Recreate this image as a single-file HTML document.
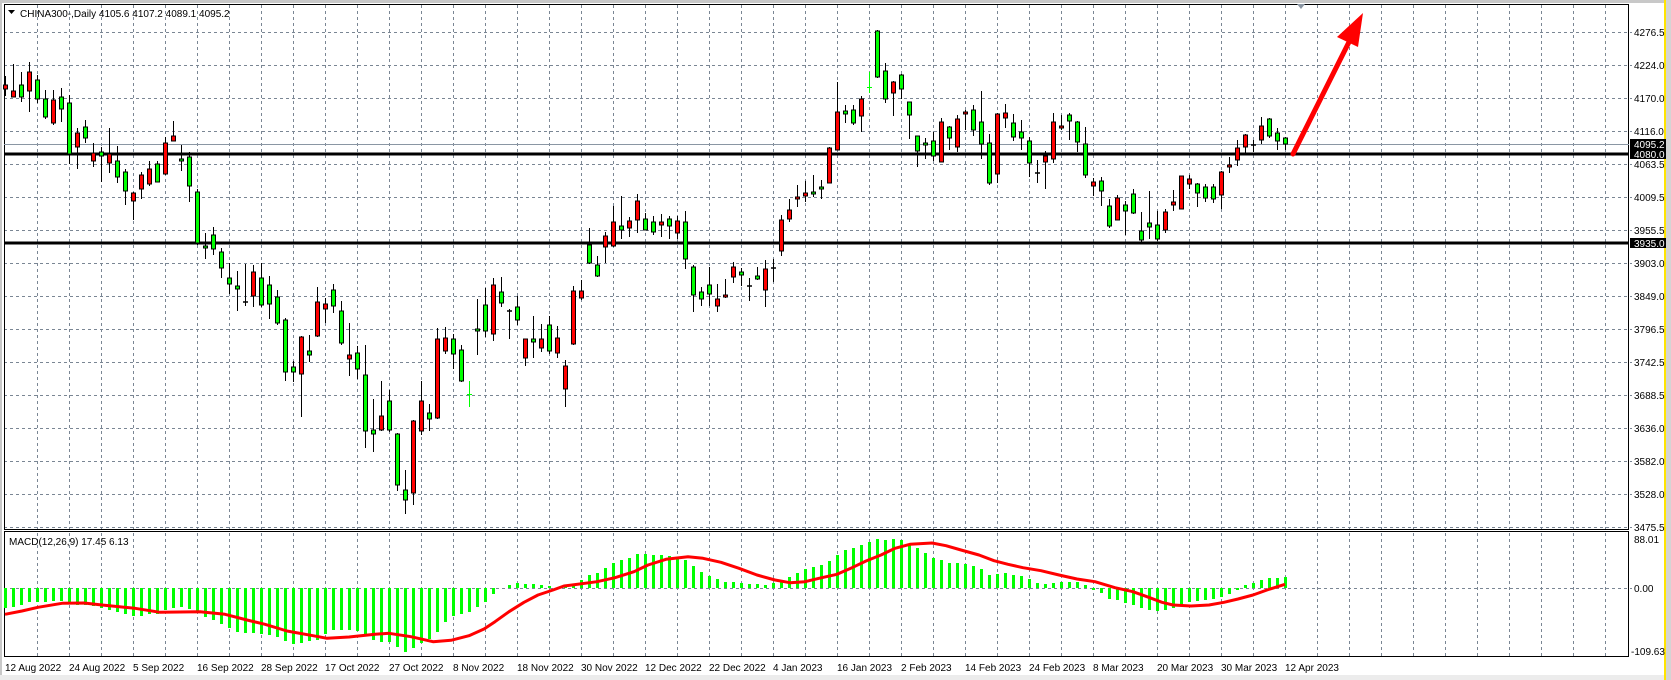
<!DOCTYPE html>
<html><head><meta charset="utf-8"><style>
html,body{margin:0;padding:0;background:#fff;width:1671px;height:680px;overflow:hidden}
svg{display:block;font-family:"Liberation Sans",Tahoma,sans-serif}
</style></head><body>
<svg width="1671" height="680" viewBox="0 0 1671 680" xmlns="http://www.w3.org/2000/svg">
<rect x="0" y="0" width="1671" height="680" fill="#fff"/>
<rect x="0" y="0" width="1671" height="3" fill="#c8c8c8"/>
<rect x="0" y="0" width="2" height="680" fill="#c8c8c8"/>
<rect x="0" y="675" width="1671" height="5" fill="#ececec"/>
<rect x="1664" y="0" width="2" height="680" fill="#ffe400"/>
<rect x="1666" y="0" width="5" height="680" fill="#d4d4d4"/>
<!-- grid -->
<g stroke="#7a8694" stroke-width="1" stroke-dasharray="3,3" fill="none">
<path d="M4 32.5H1632M4 65.5H1632M4 98.5H1632M4 131.5H1632M4 164.5H1632M4 197.5H1632M4 230.5H1632M4 263.5H1632M4 296.5H1632M4 329.5H1632M4 362.5H1632M4 395.5H1632M4 428.5H1632M4 461.5H1632M4 494.5H1632M4 527.5H1632M4 588.5H1632"/>
<path d="M37.5 5V657M69.5 5V657M101.5 5V657M133.5 5V657M165.5 5V657M197.5 5V657M229.5 5V657M261.5 5V657M293.5 5V657M325.5 5V657M357.5 5V657M389.5 5V657M421.5 5V657M453.5 5V657M485.5 5V657M517.5 5V657M549.5 5V657M581.5 5V657M613.5 5V657M645.5 5V657M677.5 5V657M709.5 5V657M741.5 5V657M773.5 5V657M805.5 5V657M837.5 5V657M869.5 5V657M901.5 5V657M933.5 5V657M965.5 5V657M997.5 5V657M1029.5 5V657M1061.5 5V657M1093.5 5V657M1125.5 5V657M1157.5 5V657M1189.5 5V657M1221.5 5V657M1253.5 5V657M1285.5 5V657M1317.5 5V657M1349.5 5V657M1381.5 5V657M1413.5 5V657M1445.5 5V657M1477.5 5V657M1509.5 5V657M1541.5 5V657M1573.5 5V657M1605.5 5V657"/>
</g>
<!-- frames -->
<g fill="none" stroke="#000" stroke-width="1">
<rect x="4.5" y="4.5" width="1624" height="525"/>
<rect x="4.5" y="531.5" width="1624" height="125"/>
</g>
<!-- current price line -->
<path d="M4 144.5H1629" stroke="#8a96a3" stroke-width="1"/>
<!-- support/resistance -->
<path d="M4 154H1629M4 243H1629" stroke="#000" stroke-width="3"/>
<!-- wicks -->
<path stroke="#000" stroke-width="1" fill="none" d="M5.5 76V96M13.5 64V97M21.5 72V102M29.5 62V112M37.5 75V103M45.5 90V119M53.5 90V125M61.5 88V122M69.5 95V164M77.5 128V169M85.5 120V143M93.5 143V167M101.5 147V182M109.5 128V173M117.5 146V183M125.5 169V205M133.5 192V220M141.5 172V199M149.5 161V186M157.5 161V182M165.5 137V175M173.5 121V141M181.5 145V171M189.5 152V202M197.5 189V245M205.5 233V259M213.5 227V255M221.5 248V278M229.5 263V294M237.5 271V311M245.5 264V306M253.5 265V307M261.5 263V307M269.5 276V319M277.5 290V325M285.5 318V381M293.5 361V382M301.5 336V417M309.5 335V362M317.5 287V337M325.5 298V323M333.5 284V313M341.5 301V345M349.5 323V376M357.5 346V379M365.5 345V448M373.5 399V452M381.5 381V431M389.5 390V432M397.5 433V491M405.5 470V514M413.5 420V505M421.5 381V435M429.5 404V431M437.5 328V419M445.5 327V354M453.5 334V369M461.5 345V382M477.5 299V355M485.5 288V337M493.5 278V341M501.5 277V307M509.5 309V339M517.5 296V325M525.5 339V366M533.5 316V358M541.5 324V352M549.5 316V354M557.5 326V358M565.5 360V407M573.5 286V345M581.5 280V300M589.5 228V264M597.5 256V277M605.5 232V263M613.5 206V247M621.5 196V239M629.5 217V237M637.5 194V233M645.5 213V230M653.5 216V235M661.5 214V237M669.5 216V239M677.5 216V239M685.5 211V269M693.5 265V312M701.5 287V306M709.5 267V306M717.5 284V312M725.5 279V298M733.5 262V283M741.5 268V286M749.5 278V301M757.5 267V280M765.5 260V307M773.5 259V282M781.5 215V256M789.5 199V222M797.5 185V207M805.5 181V202M813.5 175V197M821.5 180V199M829.5 147V183M837.5 82V150M845.5 105V123M853.5 105V125M861.5 96V132M877.5 30V78M885.5 63V103M893.5 81V116M901.5 74V99M909.5 102V139M917.5 136V167M925.5 138V159M933.5 132V161M941.5 118V162M949.5 126V150M957.5 115V152M965.5 110V130M973.5 105V136M981.5 91V159M989.5 134V185M997.5 113V183M1005.5 104V128M1013.5 114V141M1021.5 120V150M1029.5 137V177M1037.5 160V183M1045.5 151V189M1053.5 113V163M1061.5 115V130M1069.5 113V140M1077.5 121V152M1085.5 127V178M1093.5 178V196M1101.5 177V206M1109.5 199V228M1117.5 195V220M1125.5 201V235M1133.5 189V214M1141.5 212V242M1149.5 191V239M1157.5 211V241M1165.5 209V233M1173.5 190V211M1181.5 176V209M1189.5 175V189M1197.5 183V207M1205.5 184V202M1213.5 184V203M1221.5 171V209M1229.5 157V173M1237.5 140V166M1245.5 134V153M1253.5 140V152M1261.5 117V144M1269.5 118V138M1277.5 128V150M1285.5 137V150"/>
<!-- lime dojis -->
<path stroke="#00ff00" stroke-width="1" d="M469.5 381V407M467 394.5H472M869.5 72V93M867 87.5H872"/>
<!-- black dojis -->
<path stroke="#000" stroke-width="1.5" d="M243 302H248M507 311H512M747 286H752M771 268H776M1035 173H1040M1251 145H1256"/>
<!-- green bodies -->
<path fill="#00ff00" stroke="#000" stroke-width="1" d="M19.5 85h4v12h-4zM35.5 80h4v19h-4zM43.5 99h4v18h-4zM59.5 97h4v12h-4zM67.5 103h4v51h-4zM83.5 127h4v11h-4zM99.5 152h4v4h-4zM115.5 161h4v16h-4zM123.5 172h4v19h-4zM155.5 164h4v18h-4zM179.5 159h4v2h-4zM187.5 157h4v29h-4zM195.5 192h4v51h-4zM203.5 246h4v2h-4zM211.5 235h4v14h-4zM219.5 252h4v16h-4zM227.5 278h4v6h-4zM235.5 286h4v3h-4zM259.5 278h4v27h-4zM267.5 285h4v19h-4zM275.5 297h4v26h-4zM283.5 320h4v52h-4zM291.5 367h4v5h-4zM307.5 351h4v4h-4zM331.5 290h4v16h-4zM339.5 311h4v32h-4zM355.5 353h4v16h-4zM363.5 375h4v56h-4zM371.5 430h4v4h-4zM387.5 401h4v29h-4zM395.5 434h4v51h-4zM403.5 490h4v10h-4zM427.5 413h4v6h-4zM451.5 339h4v15h-4zM459.5 350h4v31h-4zM475.5 329h4v2h-4zM483.5 305h4v26h-4zM499.5 292h4v11h-4zM515.5 307h4v13h-4zM531.5 339h4v3h-4zM547.5 325h4v26h-4zM587.5 245h4v18h-4zM595.5 265h4v11h-4zM619.5 226h4v4h-4zM643.5 219h4v11h-4zM651.5 222h4v10h-4zM667.5 219h4v7h-4zM683.5 222h4v37h-4zM691.5 267h4v28h-4zM699.5 292h4v7h-4zM707.5 285h4v9h-4zM739.5 272h4v3h-4zM755.5 276h4v3h-4zM811.5 192h4v2h-4zM819.5 187h4v2h-4zM843.5 111h4v3h-4zM851.5 110h4v13h-4zM875.5 31h4v46h-4zM883.5 71h4v28h-4zM899.5 75h4v14h-4zM907.5 102h4v13h-4zM915.5 136h4v15h-4zM923.5 143h4v2h-4zM931.5 141h4v15h-4zM947.5 127h4v11h-4zM971.5 110h4v20h-4zM979.5 122h4v22h-4zM987.5 143h4v40h-4zM1011.5 123h4v14h-4zM1019.5 132h4v6h-4zM1027.5 141h4v22h-4zM1067.5 115h4v6h-4zM1075.5 122h4v20h-4zM1083.5 144h4v31h-4zM1099.5 181h4v10h-4zM1107.5 206h4v20h-4zM1123.5 205h4v6h-4zM1131.5 194h4v19h-4zM1139.5 231h4v9h-4zM1147.5 223h4v4h-4zM1155.5 225h4v14h-4zM1195.5 184h4v9h-4zM1203.5 187h4v11h-4zM1211.5 187h4v12h-4zM1267.5 119h4v17h-4zM1275.5 133h4v8h-4zM1283.5 138h4v6h-4z"/>
<!-- red bodies -->
<path fill="#ff0000" stroke="#000" stroke-width="1" d="M3.5 85h4v4h-4zM11.5 91h4v6h-4zM27.5 72h4v19h-4zM51.5 100h4v23h-4zM75.5 133h4v14h-4zM91.5 153h4v8h-4zM107.5 154h4v9h-4zM131.5 193h4v8h-4zM139.5 175h4v14h-4zM147.5 169h4v15h-4zM163.5 143h4v31h-4zM171.5 136h4v5h-4zM251.5 272h4v24h-4zM299.5 337h4v37h-4zM315.5 302h4v34h-4zM323.5 304h4v5h-4zM347.5 355h4v4h-4zM379.5 416h4v14h-4zM411.5 421h4v72h-4zM419.5 401h4v30h-4zM435.5 339h4v79h-4zM443.5 338h4v13h-4zM491.5 285h4v49h-4zM523.5 339h4v19h-4zM539.5 339h4v9h-4zM555.5 338h4v15h-4zM563.5 366h4v23h-4zM571.5 291h4v53h-4zM579.5 291h4v7h-4zM603.5 236h4v11h-4zM611.5 222h4v24h-4zM627.5 221h4v7h-4zM635.5 201h4v19h-4zM659.5 222h4v3h-4zM675.5 221h4v12h-4zM715.5 299h4v7h-4zM723.5 295h4v2h-4zM731.5 267h4v10h-4zM763.5 269h4v21h-4zM779.5 220h4v31h-4zM787.5 210h4v9h-4zM795.5 197h4v2h-4zM803.5 193h4v3h-4zM827.5 148h4v35h-4zM835.5 112h4v38h-4zM859.5 99h4v17h-4zM891.5 82h4v11h-4zM939.5 122h4v40h-4zM955.5 119h4v28h-4zM963.5 112h4v2h-4zM995.5 114h4v60h-4zM1003.5 113h4v5h-4zM1043.5 156h4v6h-4zM1051.5 122h4v37h-4zM1059.5 126h4v2h-4zM1091.5 182h4v4h-4zM1115.5 198h4v22h-4zM1163.5 212h4v18h-4zM1171.5 202h4v3h-4zM1179.5 176h4v33h-4zM1187.5 179h4v5h-4zM1219.5 172h4v23h-4zM1227.5 165h4v2h-4zM1235.5 148h4v12h-4zM1243.5 135h4v12h-4zM1259.5 126h4v14h-4z"/>
<!-- MACD histogram -->
<path stroke="#00ff00" stroke-width="3" fill="none" d="M5.5 588V608M13.5 588V607M21.5 588V605M29.5 588V602M37.5 588V602M45.5 588V602M53.5 588V601M61.5 588V601M69.5 588V603M77.5 588V605M85.5 588V605M93.5 588V606M101.5 588V608M109.5 588V610M117.5 588V612M125.5 588V614M133.5 588V616M141.5 588V616M149.5 588V614M157.5 588V614M165.5 588V610M173.5 588V608M181.5 588V607M189.5 588V609M197.5 588V612M205.5 588V617M213.5 588V620M221.5 588V624M229.5 588V628M237.5 588V632M245.5 588V633M253.5 588V633M261.5 588V634M269.5 588V635M277.5 588V637M285.5 588V641M293.5 588V644M301.5 588V643M309.5 588V641M317.5 588V640M325.5 588V634M333.5 588V630M341.5 588V630M349.5 588V630M357.5 588V631M365.5 588V635M373.5 588V640M381.5 588V642M389.5 588V642M397.5 588V647M405.5 588V652M413.5 588V648M421.5 588V643M429.5 588V639M437.5 588V632M445.5 588V622M453.5 588V616M461.5 588V614M469.5 588V612M477.5 588V607M485.5 588V602M493.5 588V594M509.5 588V585M517.5 588V583M525.5 588V584M533.5 588V584M541.5 588V585M549.5 588V586M565.5 588V587M573.5 588V584M581.5 588V580M589.5 588V575M597.5 588V573M605.5 588V568M613.5 588V563M621.5 588V560M629.5 588V558M637.5 588V554M645.5 588V554M653.5 588V555M661.5 588V555M669.5 588V556M677.5 588V557M685.5 588V560M693.5 588V566M701.5 588V572M709.5 588V576M717.5 588V579M725.5 588V582M733.5 588V582M741.5 588V583M749.5 588V584M757.5 588V584M765.5 588V585M773.5 588V583M781.5 588V580M789.5 588V577M797.5 588V573M805.5 588V569M813.5 588V567M821.5 588V565M829.5 588V561M837.5 588V555M845.5 588V550M853.5 588V548M861.5 588V545M869.5 588V542M877.5 588V539M885.5 588V540M893.5 588V539M901.5 588V540M909.5 588V545M917.5 588V548M925.5 588V553M933.5 588V558M941.5 588V560M949.5 588V563M957.5 588V563M965.5 588V564M973.5 588V566M981.5 588V569M989.5 588V575M997.5 588V574M1005.5 588V573M1013.5 588V575M1021.5 588V576M1029.5 588V579M1037.5 588V583M1045.5 588V584M1053.5 588V583M1061.5 588V582M1069.5 588V582M1077.5 588V582M1085.5 588V585M1093.5 588V590M1101.5 588V593M1109.5 588V599M1117.5 588V600M1125.5 588V603M1133.5 588V605M1141.5 588V608M1149.5 588V610M1157.5 588V611M1165.5 588V610M1173.5 588V608M1181.5 588V605M1189.5 588V602M1197.5 588V601M1205.5 588V600M1213.5 588V599M1221.5 588V597M1229.5 588V594M1237.5 588V590M1245.5 588V585M1253.5 588V583M1261.5 588V580M1269.5 588V578M1277.5 588V578M1285.5 588V577"/>
<!-- signal -->
<polyline fill="none" stroke="#ff0000" stroke-width="3" stroke-linejoin="round" points="5,614.3 22,611 38,607.3 62,603.3 84,603 102,605 135,608.3 160,612.3 200,611.7 225,614.3 247,620 265,624.3 287,631 313,635.7 327,638.3 349,637 375,634.3 389,633.3 411,636.7 433,641.7 451,640.3 469,635.7 484,629 495,621.7 509,611.7 524,602.3 538,595 553,590 564,586 572,585 597,581.7 615,577.7 634,571.7 648,565 666,559.3 688,556.7 703,558.3 721,562.3 739,568.3 757,575 775,580 790,582.7 805,581.7 819,578.3 837,574.3 852,567.7 866,561 881,555 895,548.3 910,544.3 932,543 946,545.7 961,550 979,555 994,560.7 1008,564.3 1023,567.7 1041,570.7 1059,575 1077,579 1095,581.7 1115,587.7 1133,591.7 1147,596.7 1162,602.3 1173,605 1191,606 1209,605 1224,602.3 1238,599 1253,595 1267,590 1285,584.3"/>
<!-- arrow -->
<path d="M1293 154L1352 36" stroke="#ff0000" stroke-width="5" stroke-linecap="round"/>
<polygon points="1363,13 1337,37 1358,47" fill="#ff0000"/>
<polygon points="1297,4 1305,4 1301,9" fill="#8a96a3"/>
<!-- title -->
<polygon points="8,10 15,10 11.5,14" fill="#000"/>
<text x="20" y="17" font-size="10" fill="#000">CHINA300-,Daily  4105.6 4107.2 4089.1 4095.2</text>
<text x="9" y="545" font-size="10" fill="#000">MACD(12,26,9) 17.45 6.13</text>
<!-- price axis -->
<g font-size="10" fill="#000">
<text x="1634" y="36">4276.5</text>
<text x="1634" y="69">4224.0</text>
<text x="1634" y="102">4170.0</text>
<text x="1634" y="135">4116.0</text>
<text x="1634" y="168">4063.5</text>
<text x="1634" y="201">4009.5</text>
<text x="1634" y="234">3955.5</text>
<text x="1634" y="267">3903.0</text>
<text x="1634" y="300">3849.0</text>
<text x="1634" y="333">3796.5</text>
<text x="1634" y="366">3742.5</text>
<text x="1634" y="399">3688.5</text>
<text x="1634" y="432">3636.0</text>
<text x="1634" y="465">3582.0</text>
<text x="1634" y="498">3528.0</text>
<text x="1634" y="531">3475.5</text>
<text x="1634" y="543">88.01</text>
<text x="1634" y="592">0.00</text>
<text x="1631" y="655">-109.63</text>
</g>
<rect x="1630" y="139" width="36" height="10" fill="#000"/>
<rect x="1630" y="149" width="36" height="10" fill="#000"/>
<rect x="1630" y="238" width="36" height="10" fill="#000"/>
<g font-size="10" fill="#fff">
<text x="1634" y="148">4095.2</text>
<text x="1634" y="158">4080.0</text>
<text x="1634" y="247">3935.0</text>
</g>
<!-- date axis -->
<g font-size="10" fill="#000">
<text x="5" y="671">12 Aug 2022</text>
<text x="69" y="671">24 Aug 2022</text>
<text x="133" y="671">5 Sep 2022</text>
<text x="197" y="671">16 Sep 2022</text>
<text x="261" y="671">28 Sep 2022</text>
<text x="325" y="671">17 Oct 2022</text>
<text x="389" y="671">27 Oct 2022</text>
<text x="453" y="671">8 Nov 2022</text>
<text x="517" y="671">18 Nov 2022</text>
<text x="581" y="671">30 Nov 2022</text>
<text x="645" y="671">12 Dec 2022</text>
<text x="709" y="671">22 Dec 2022</text>
<text x="773" y="671">4 Jan 2023</text>
<text x="837" y="671">16 Jan 2023</text>
<text x="901" y="671">2 Feb 2023</text>
<text x="965" y="671">14 Feb 2023</text>
<text x="1029" y="671">24 Feb 2023</text>
<text x="1093" y="671">8 Mar 2023</text>
<text x="1157" y="671">20 Mar 2023</text>
<text x="1221" y="671">30 Mar 2023</text>
<text x="1285" y="671">12 Apr 2023</text>
</g>
</svg>
</body></html>
